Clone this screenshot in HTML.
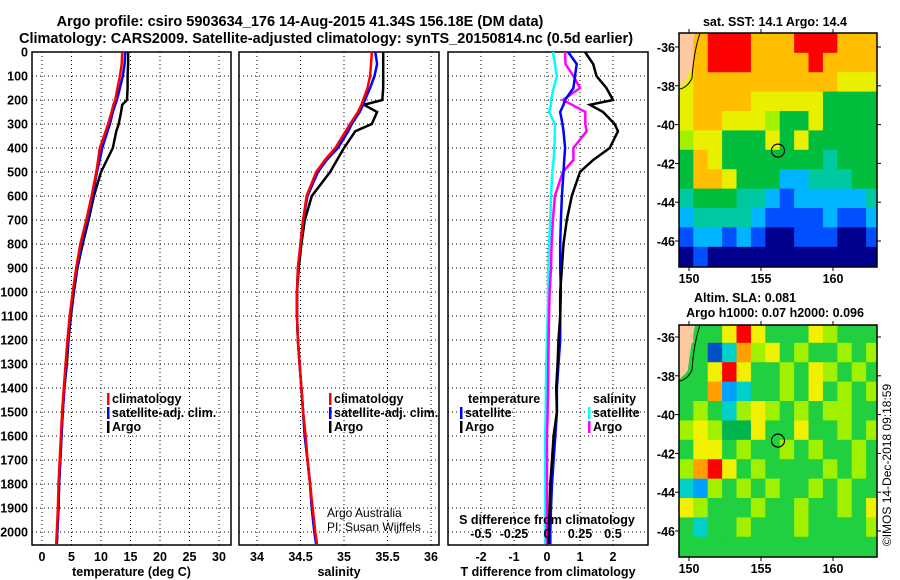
<!DOCTYPE html>
<html><head><meta charset="utf-8">
<style>
html,body{margin:0;padding:0;background:#fff;}
svg{display:block;font-family:"Liberation Sans",sans-serif;}
.b{font-weight:bold;font-size:12.5px;}
.t{font-weight:bold;font-size:14.5px;}
</style></head>
<body>
<svg id="c" width="900" height="580" viewBox="0 0 900 580">
<text class="t" x="300" y="26" text-anchor="middle">Argo profile: csiro 5903634_176 14-Aug-2015 41.34S 156.18E (DM data)</text>
<text class="t" x="326" y="43" text-anchor="middle">Climatology: CARS2009. Satellite-adjusted climatology: synTS_20150814.nc (0.5d earlier)</text>
<g id="g"></g>
</svg>
<script>
const depthTicks=[0,100,200,300,400,500,600,700,800,900,1000,1100,1200,1300,1400,1500,1600,1700,1800,1900,2000];
const tTicks=[0,5,10,15,20,25,30];
const sTicks=[34,34.5,35,35.5,36];
const sTickLabels=["34","34.5","35","35.5","36"];
const dTTicks=[-2,-1,0,1,2];
const dSTicks=[-0.5,-0.25,0,0.25,0.5];
const dSTickLabels=["-0.5","-0.25","0","0.25","0.5"];
const depths=[0,50,100,150,200,220,250,300,330,400,450,500,600,700,800,900,1000,1100,1200,1300,1400,1500,1600,1700,1800,1900,2000,2050];
const tClim=[13.6,13.5,13.2,12.8,12.4,12.1,11.8,11.2,10.8,9.8,9.5,9.2,8.4,7.5,6.5,5.8,5.2,4.7,4.3,4.0,3.7,3.4,3.2,3.0,2.8,2.7,2.5,2.4];
const tSat=[14.1,14.0,13.7,13.2,12.7,12.4,12.0,11.5,11.1,10.2,9.8,9.3,8.6,7.7,6.7,5.9,5.3,4.8,4.4,4.1,3.8,3.5,3.3,3.1,2.9,2.8,2.6,2.5];
const tArgo=[14.6,14.6,14.5,14.5,14.4,13.6,13.4,13.0,12.6,12.0,11.0,10.0,8.8,7.9,6.9,6.0,5.4,4.9,4.5,4.2,3.8,3.5,3.3,3.1,2.9,2.8,2.6,2.5];
const sClim=[35.32,35.31,35.30,35.27,35.22,35.20,35.16,35.07,35.02,34.90,34.78,34.68,34.57,34.53,34.50,34.47,34.46,34.46,34.47,34.49,34.51,34.53,34.56,34.58,34.61,34.64,34.67,34.69];
const sSat=[35.36,35.38,35.35,35.30,35.24,35.22,35.18,35.09,35.05,34.93,34.80,34.70,34.58,34.53,34.50,34.47,34.46,34.46,34.47,34.49,34.51,34.53,34.55,34.58,34.61,34.63,34.66,34.68];
const sArgo=[35.45,35.45,35.45,35.45,35.44,35.23,35.38,35.32,35.13,35.00,34.92,34.84,34.63,34.55,34.51,34.48,34.46,34.46,34.47,34.49,34.51,34.53,34.55,34.58,34.61,34.63,34.66,34.68];
const dTSat=[0.64,0.9,0.85,0.8,0.55,0.5,0.4,0.47,0.5,0.55,0.52,0.5,0.45,0.42,0.4,0.4,0.42,0.4,0.4,0.35,0.3,0.3,0.25,0.2,0.15,0.12,0.1,0.1];
const dTArgo=[1.15,1.4,1.5,1.8,2.0,1.3,1.7,2.05,2.15,1.9,1.4,1.0,0.75,0.6,0.5,0.45,0.4,0.4,0.35,0.32,0.28,0.3,0.2,0.15,0.1,0.08,0.05,0.05];
const dSSat=[0.045,0.06,0.075,0.05,0.03,0.03,0.015,0.06,0.06,0.055,0.05,0.04,0.03,0.025,0.015,0.01,0.008,0.005,0.0,-0.005,-0.008,-0.01,-0.015,-0.015,-0.015,-0.015,-0.015,-0.015];
const dSArgo=[0.136,0.14,0.2,0.25,0.12,0.19,0.29,0.29,0.3,0.2,0.2,0.12,0.06,0.045,0.035,0.03,0.02,0.015,0.012,0.01,0.008,0.005,0.0,0.0,0.0,0.0,0.0,0.0];
const sstGrid=[
[9,7,8,8,8,7,7,7,8,8,8,7,7,7],
[9,7,8,8,8,7,7,7,7,8,7,7,7,7],
[6,7,7,7,7,7,7,7,7,7,7,6,6,6],
[6,7,7,7,7,6,6,6,6,6,4,4,4,4],
[6,7,7,6,6,6,5,4,4,6,4,4,4,4],
[5,6,6,4,4,4,6,4,6,4,4,4,4,4],
[4,7,6,4,4,4,4,4,4,4,3,4,4,4],
[4,7,7,6,4,4,4,2,2,3,3,3,4,4],
[3,4,4,4,3,3,2,1,2,2,2,2,2,3],
[2,3,3,3,3,2,1,1,1,1,2,1,1,2],
[1,2,2,1,2,1,0,0,1,1,1,0,0,1],
[0,1,0,0,0,0,0,0,0,0,0,0,0,0]];
const slaGrid=[
[9,4,4,6,8,6,4,4,4,6,5,4,4,4],
[4,4,0,2,7,5,6,4,5,4,4,5,4,5],
[4,4,6,8,6,4,4,5,4,6,5,4,5,4],
[4,4,7,1,2,4,4,5,4,6,4,5,4,5],
[4,5,4,2,5,6,5,4,5,4,5,5,4,4],
[5,6,5,3,3,6,4,4,6,4,4,5,4,5],
[4,6,6,4,5,4,4,5,4,5,4,4,5,4],
[5,7,8,6,4,5,4,4,4,4,5,4,5,4],
[2,1,5,4,5,4,5,4,4,5,4,5,4,4],
[6,5,4,4,4,5,4,4,5,4,4,5,4,6],
[4,2,4,4,5,4,4,4,5,4,4,4,4,5],
[4,4,4,4,4,4,4,4,4,4,4,4,4,4]];
const mapLonTicks=[150,155,160];
const mapLatTicks=[-36,-38,-40,-42,-44,-46];
const argoLon=156.18, argoLat=-41.34;

const sstPal=["#00008c","#0050ff","#00b4ff","#00c8a0","#00be3c","#a0f000","#e8f000","#ffbe00","#ff0000","#ffc8a0"];
const slaPal=["#0050c8","#00a0ff","#00d0c8","#00b450","#20d040","#a0f000","#f0f000","#ffa000","#ff0000","#ffc8a0"];

const NS="http://www.w3.org/2000/svg";
const G=document.getElementById('g');
function mk(tag,attrs,parent){const e=document.createElementNS(NS,tag);for(const k in attrs)e.setAttribute(k,attrs[k]);(parent||G).appendChild(e);return e;}
function txt(x,y,s,cls,anchor,parent){const e=mk('text',{x:x,y:y,'text-anchor':anchor||'middle'},parent);if(cls)e.setAttribute('class',cls);e.textContent=s;return e;}

const pTop=52,pBot=545;
const yD=d=>pTop+d*0.24;
function panel(name,x0,x1,xs,xticks,xlabels,lab){
  const g=mk('g',{});
  
  
  depthTicks.forEach(d=>{const l=mk('line',{x1:x0,x2:x1,y1:yD(d),y2:yD(d),stroke:'#000','stroke-width':1,'stroke-dasharray':'1 3'},g);
    });
  xticks.forEach((v,i)=>{const x=xs(v);const l=mk('line',{x1:x,x2:x,y1:pTop,y2:pBot,stroke:'#000','stroke-width':1,'stroke-dasharray':'1 3'},g);
    
    const t=txt(x,561,xlabels[i],'b','middle',g);});
  const r=mk('rect',{x:x0,y:pTop,width:x1-x0,height:pBot-pTop,fill:'none',stroke:'#000','stroke-width':1.5},g);
  
  if(lab){const t=txt((x0+x1)/2,576,lab,'b','middle',g);}
  return g;
}
function line(g,xs,vals,color,name){
  const pts=depths.map((d,i)=>xs(vals[i]).toFixed(1)+','+yD(d).toFixed(1)).join(' ');
  const p=mk('polyline',{points:pts,fill:'none',stroke:color,'stroke-width':2.5,'stroke-linejoin':'miter'},g);
  
}
depthTicks.forEach(d=>{const t=txt(28,yD(d)+4.5,String(d),'b','end');});

const xT=v=>42+v*5.9;
const g1=panel('temperature-panel',32,231,xT,tTicks,tTicks.map(String),'temperature (deg C)');
line(g1,xT,tArgo,'#000','argo-temperature-line');
line(g1,xT,tSat,'#0000ff','satellite-temperature-line');
line(g1,xT,tClim,'#ff0000','climatology-temperature-line');

const xS=v=>257+(v-34)*87;
const g2=panel('salinity-panel',239,439,xS,sTicks,sTickLabels,'salinity');
line(g2,xS,sArgo,'#000','argo-salinity-line');
line(g2,xS,sSat,'#0000ff','satellite-salinity-line');
line(g2,xS,sClim,'#ff0000','climatology-salinity-line');

const xDT=v=>547+v*33, xDS=v=>547+v*132;
const g3=panel('difference-panel',448,648,xDT,dTTicks,dTTicks.map(String),'T difference from climatology');
line(g3,xDS,dSSat,'#00ffff','satellite-salinity-diff-line');
line(g3,xDS,dSArgo,'#ff00ff','argo-salinity-diff-line');
line(g3,xDT,dTSat,'#0000ff','satellite-temperature-diff-line');
line(g3,xDT,dTArgo,'#000','argo-temperature-diff-line');
dSTicks.forEach((v,i)=>{const t=txt(xDS(v),538,dSTickLabels[i],'b','middle',g3);});
{const t=txt(547,524,'S difference from climatology','b','middle',g3);}

function legend(x,y,items,parent){items.forEach((it,i)=>{
  const yy=y+i*14;
  const m=mk('rect',{x:x,y:yy-10,width:2.5,height:12,fill:it[1]},parent);
  const t=txt(x+5,yy,it[0],'b','start',parent);
});}
legend(107,403,[['climatology','#ff0000'],['satellite-adj. clim.','#0000ff'],['Argo','#000']],g1);
legend(329,403,[['climatology','#ff0000'],['satellite-adj. clim.','#0000ff'],['Argo','#000']],g2);
{const t=txt(468,403,'temperature','b','start',g3);
 const t2=txt(593,403,'salinity','b','start',g3);}
legend(460,417,[['satellite','#0000ff'],['Argo','#000']],g3);
legend(588,417,[['satellite','#00ffff'],['Argo','#ff00ff']],g3);
{const t=txt(327,517,'Argo Australia','','start');t.setAttribute('font-size','12');
 const t2=txt(327,531,'PI: Susan Wijffels','','start');t2.setAttribute('font-size','12');}

const mx0=679,mx1=877;
const lonX=l=>689+(l-150)*14.4;
function map(name,y0,y1,grid,pal,base,titles){
  const latY=l=>base+(-36-l)*19.4;
  const g=mk('g',{});
  grid.forEach((row,r)=>row.forEach((v,c)=>{
    const xa=Math.max(mx0,lonX(149.3+c)), xb=Math.min(mx1,lonX(150.3+c));
    const ya=Math.max(y0,latY(-35.3-r)), yb=Math.min(y1,latY(-36.3-r));
    const cell=mk('rect',{x:xa,y:ya,width:xb-xa+0.5,height:yb-ya+0.5,fill:pal[v]},g);
    
  }));
  const land=mk('path',{d:`M${mx0},${y0} L${mx0+16},${y0} C${mx0+12},${y0+20} ${mx0+10},${y0+35} ${mx0+9},${y0+45} C${mx0+6},${y0+50} ${mx0+2},${y0+52} ${mx0},${y0+55} Z`,fill:'#ffc8a0',stroke:'none'},g);
  
  const coast=mk('path',{d:`M${mx0+21},${y0} C${mx0+16},${y0+15} ${mx0+14},${y0+30} ${mx0+13},${y0+45} C${mx0+10},${y0+52} ${mx0+4},${y0+56} ${mx0},${y0+56}`,fill:'none',stroke:'#000','stroke-width':1},g);
  
  const fr=mk('rect',{x:mx0,y:y0,width:mx1-mx0,height:y1-y0,fill:'none',stroke:'#000','stroke-width':1.5},g);
  
  mapLatTicks.forEach(l=>{const t=txt(675,latY(l)+5,String(l),'b','end',g);
    mk('line',{x1:mx0-4,x2:mx0,y1:latY(l),y2:latY(l),stroke:'#000'},g);mk('line',{x1:mx1,x2:mx1+4,y1:latY(l),y2:latY(l),stroke:'#000'},g);});
  mapLonTicks.forEach(l=>{const t=txt(lonX(l),y1+16,String(l),'b','middle',g);
    mk('line',{x1:lonX(l),x2:lonX(l),y1:y1,y2:y1+4,stroke:'#000'},g);mk('line',{x1:lonX(l),x2:lonX(l),y1:y0-4,y2:y0,stroke:'#000'},g);});
  const ci=mk('circle',{cx:lonX(argoLon),cy:latY(argoLat),r:6.5,fill:'none',stroke:'#000','stroke-width':1.2},g);
  
  titles.forEach(tt=>{const t=txt(tt[0],tt[1],tt[2],'b','middle',g);});
}
map('sst-map',33,267,sstGrid,sstPal,47,[[775,26,'sat. SST: 14.1 Argo: 14.4']]);
map('sla-map',325,557,slaGrid,slaPal,337,[[745,302,'Altim. SLA: 0.081'],[775,317,'Argo h1000: 0.07 h2000: 0.096']]);
{const t=txt(0,0,'©IMOS 14-Dec-2018 09:18:59','','middle');t.setAttribute('font-size','12');t.setAttribute('transform','translate(891,465) rotate(-90)');
 }
</script>
</body></html>
